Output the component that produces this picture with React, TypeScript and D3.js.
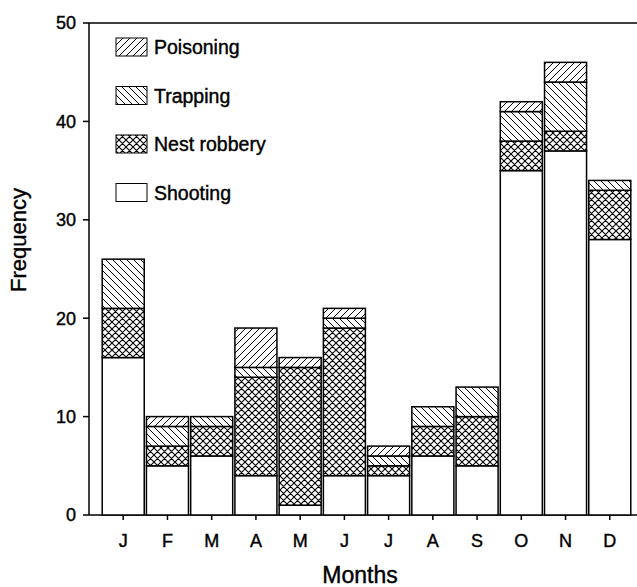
import React from "react";
import * as d3 from "d3";

const monthLabels = ["J", "F", "M", "A", "M", "J", "J", "A", "S", "O", "N", "D"];
const shooting = [16, 5, 6, 4, 1, 4, 4, 6, 5, 35, 37, 28];
const nestRobbery = [5, 2, 3, 10, 14, 15, 1, 3, 5, 3, 2, 5];
const trapping = [5, 2, 1, 1, 0, 1, 1, 2, 3, 3, 5, 1];
const poisoning = [0, 1, 0, 4, 1, 1, 1, 0, 0, 1, 2, 0];
const yTicks = [0, 10, 20, 30, 40, 50];
const seriesKeys = ["Shooting", "Nest robbery", "Trapping", "Poisoning"];
const legendOrder = ["Poisoning", "Trapping", "Nest robbery", "Shooting"];

const W = 637;
const H = 587;
const FONT = "'Liberation Sans', Arial, sans-serif";

export default function App() {
  const rows = monthLabels.map((m, i) => ({
    idx: String(i),
    Shooting: shooting[i],
    "Nest robbery": nestRobbery[i],
    Trapping: trapping[i],
    Poisoning: poisoning[i],
  }));
  const stacked = d3.stack<any>().keys(seriesKeys)(rows);

  const x = d3
    .scaleBand<string>()
    .domain(rows.map((r) => r.idx))
    .range([100, 633])
    .padding(0.05);
  const y = d3.scaleLinear().domain([0, 50]).range([515, 23]);

  const fillFor: Record<string, string> = {
    Shooting: "#ffffff",
    "Nest robbery": "url(#pat-cross)",
    Trapping: "url(#pat-back)",
    Poisoning: "url(#pat-fwd)",
  };

  const x0 = 89;
  const x1 = 640;
  const textStroke = { stroke: "#000", strokeWidth: 0.4 };

  return (
    <svg
      width={W}
      height={H}
      style={{ position: "absolute", left: 0, top: 0, background: "#fff" }}
      fontFamily={FONT}
    >
      <defs>
        <pattern id="pat-fwd" patternUnits="userSpaceOnUse" width={7} height={7}>
          <rect width={7} height={7} fill="#fff" />
          <path d="M0,7 L7,0 M-1,1 L1,-1 M6,8 L8,6" stroke="#000" strokeWidth={1} />
        </pattern>
        <pattern id="pat-back" patternUnits="userSpaceOnUse" width={7} height={7}>
          <rect width={7} height={7} fill="#fff" />
          <path d="M0,0 L7,7 M-1,6 L1,8 M6,-1 L8,1" stroke="#000" strokeWidth={1} />
        </pattern>
        <pattern id="pat-cross" patternUnits="userSpaceOnUse" width={7} height={7}>
          <rect width={7} height={7} fill="#fff" />
          <path
            d="M0,7 L7,0 M-1,1 L1,-1 M6,8 L8,6 M0,0 L7,7 M-1,6 L1,8 M6,-1 L8,1"
            stroke="#000"
            strokeWidth={1.1}
          />
        </pattern>
      </defs>

      {/* frame */}
      <line x1={x0} x2={x1} y1={y(50)} y2={y(50)} stroke="#000" strokeWidth={1.5} />
      <line x1={x0} x2={x1} y1={515} y2={515} stroke="#000" strokeWidth={1.5} />
      <line x1={x0} x2={x0} y1={y(50)} y2={515} stroke="#000" strokeWidth={1.5} />

      {/* bars */}
      {stacked.map((s) =>
        s.map((d, i) =>
          d[1] - d[0] > 0 ? (
            <rect
              key={s.key + i}
              x={x(String(i))!}
              width={x.bandwidth()}
              y={y(d[1])}
              height={y(d[0]) - y(d[1])}
              fill={fillFor[s.key]}
              stroke="#000"
              strokeWidth={1.5}
            />
          ) : null
        )
      )}

      {/* y ticks */}
      {yTicks.map((t) => (
        <g key={t}>
          <line x1={x0 - 6} x2={x0} y1={y(t)} y2={y(t)} stroke="#000" strokeWidth={1.5} />
          <text x={x0 - 13} y={y(t)} dy="0.36em" textAnchor="end" fontSize={18} {...textStroke}>
            {t}
          </text>
        </g>
      ))}

      {/* x ticks */}
      {monthLabels.map((m, i) => {
        const cx = x(String(i))! + x.bandwidth() / 2;
        return (
          <g key={i}>
            <line x1={cx} x2={cx} y1={515} y2={520} stroke="#000" strokeWidth={1.5} />
            <text x={cx} y={547} textAnchor="middle" fontSize={18} {...textStroke}>
              {m}
            </text>
          </g>
        );
      })}

      {/* axis titles */}
      <text
        transform={`translate(26,240) rotate(-90)`}
        textAnchor="middle"
        fontSize={22}
        {...textStroke}
      >
        Frequency
      </text>
      <text x={360} y={583} textAnchor="middle" fontSize={23} {...textStroke}>
        Months
      </text>

      {/* legend */}
      {legendOrder.map((k, i) => {
        const cy = 47 + i * 48.5;
        return (
          <g key={k}>
            <rect
              x={116}
              y={cy - 9}
              width={31}
              height={18}
              fill={fillFor[k]}
              stroke="#000"
              strokeWidth={1}
            />
            <text x={154} y={cy} dy="0.36em" fontSize={19.5} {...textStroke}>
              {k}
            </text>
          </g>
        );
      })}
    </svg>
  );
}
